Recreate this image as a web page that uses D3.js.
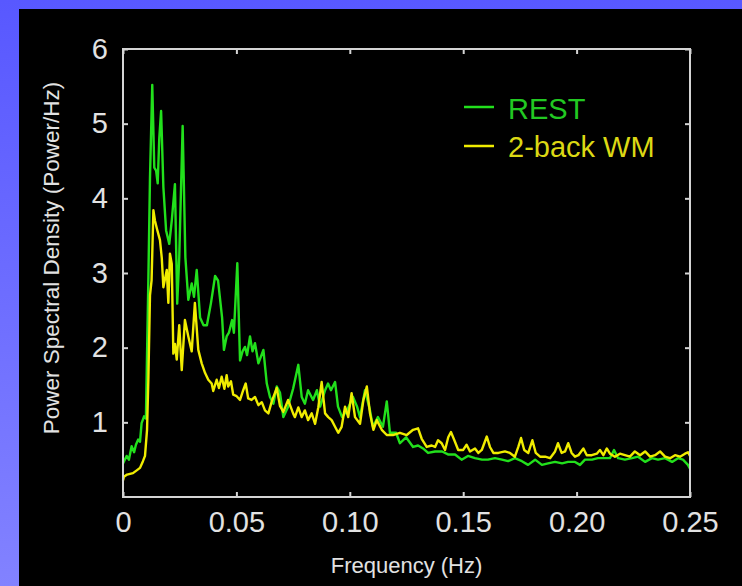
<!DOCTYPE html>
<html>
<head>
<meta charset="utf-8">
<script src="https://cdn.jsdelivr.net/npm/d3@7/dist/d3.min.js"></script>
<style>
  html, body { margin: 0; padding: 0; background: #000; }
  svg { display: block; }
  text { font-family: "Liberation Sans", Arial, Helvetica, sans-serif; }
</style>
</head>
<body>
<svg id="chart" width="742" height="586"></svg>
<script>
// ---------- DATA ----------
const restFreq = [0.0000,0.0016,0.0026,0.0038,0.0049,0.0057,0.0067,0.0075,0.0082,0.0093,0.0101,0.0112,0.0119,0.0129,0.0138,0.0146,0.0153,0.0160,0.0168,0.0178,0.0190,0.0204,0.0215,0.0229,0.0239,0.0248,0.0263,0.0275,0.0288,0.0303,0.0313,0.0325,0.0340,0.0355,0.0370,0.0388,0.0406,0.0419,0.0437,
  0.0445,0.0457,0.0467,0.0481,0.0489,0.0504,0.0516,0.0527,0.0538,0.0547,0.0560,0.0571,0.0582,0.0597,0.0619,0.0634,0.0648,0.0663,0.0678,0.0692,0.0707,0.0728,
  0.0750,0.0773,0.0788,0.0802,0.0816,0.0838,0.0855,0.0869,0.0891,0.0904,0.0917,0.0935,0.0948,0.0966,0.0988,0.1001,0.1014,0.1032,0.1045,0.1067,0.1089,0.1102,0.1124,0.1146,0.1163,0.1177,0.1204,0.1221,0.1248,0.1279,0.1301,0.1323,0.1345,0.1376,0.1407,0.1433,0.1464,0.1493,0.1521,0.1552,0.1583,0.1609,0.1640,0.1671,0.1698,0.1728,0.1759,0.1786,0.1817,0.1847,0.1874,0.1905,0.1936,0.1962,0.1993,0.2015,0.2037,0.2068,0.2094,0.2125,0.2147,0.2165,0.2183,0.2213,0.2244,0.2271,0.2302,0.2332,0.2359,0.2390,0.2421,0.2447,0.2469,0.2491,0.2500];
const restPower = [0.45,0.55,0.50,0.68,0.60,0.70,0.77,0.74,0.99,1.08,1.05,2.95,4.28,5.52,4.41,4.37,4.20,4.81,5.17,4.15,3.57,3.39,3.70,4.19,2.59,3.21,4.97,3.21,2.64,2.86,2.68,3.04,2.40,2.30,2.30,2.60,2.96,2.90,2.40,
  1.97,2.15,2.20,2.37,2.20,3.13,1.83,1.95,2.01,1.90,2.15,1.95,2.06,1.79,1.97,1.52,1.34,1.25,1.48,1.40,1.07,1.21,
  1.45,1.77,1.34,1.25,1.43,1.30,1.43,1.21,1.43,1.52,1.43,1.54,1.21,1.07,1.16,1.25,1.34,1.21,1.07,1.43,1.16,0.94,1.07,0.94,1.28,0.86,0.86,0.72,0.80,0.67,0.69,0.65,0.59,0.61,0.61,0.57,0.57,0.50,0.55,0.52,0.50,0.50,0.52,0.50,0.48,0.52,0.48,0.43,0.50,0.43,0.45,0.47,0.45,0.47,0.47,0.43,0.50,0.50,0.52,0.52,0.52,0.63,0.52,0.50,0.52,0.54,0.47,0.52,0.50,0.52,0.47,0.52,0.50,0.43,0.38];

const wmFreq = [0.0000,0.0004,0.0018,0.0031,0.0044,0.0062,0.0075,0.0088,0.0097,0.0106,0.0112,0.0119,0.0126,0.0134,0.0141,0.0149,0.0163,0.0171,0.0178,0.0193,0.0200,0.0207,0.0215,0.0222,0.0229,0.0237,0.0248,0.0259,0.0273,0.0288,0.0303,0.0317,
  0.0332,0.0347,0.0362,0.0376,0.0391,0.0398,0.0413,0.0423,0.0435,0.0447,0.0457,0.0464,0.0476,0.0486,0.0501,0.0516,0.0530,0.0541,0.0552,0.0567,0.0582,0.0597,0.0612,0.0626,0.0641,0.0656,0.0678,0.0692,0.0707,0.0728,
  0.0750,0.0758,0.0773,0.0788,0.0802,0.0816,0.0832,0.0847,0.0861,0.0876,0.0891,0.0905,0.0920,0.0935,0.0949,0.0964,0.0979,0.0993,0.1008,0.1023,0.1045,0.1060,0.1075,0.1089,0.1104,0.1119,0.1141,0.1163,0.1190,0.1221,0.1251,0.1279,0.1301,0.1317,0.1339,0.1361,0.1376,0.1389,0.1405,0.1420,0.1434,0.1446,0.1461,0.1478,0.1500,0.1515,0.1530,0.1552,0.1567,0.1582,0.1604,0.1618,0.1633,0.1655,0.1684,0.1706,0.1728,0.1743,0.1755,0.1769,0.1787,0.1805,0.1820,0.1839,0.1861,0.1883,0.1905,0.1918,0.1934,0.1949,0.1963,0.1978,0.1993,0.2008,0.2030,0.2045,0.2067,0.2089,0.2103,0.2118,0.2133,0.2147,0.2169,0.2191,0.2213,0.2235,0.2257,0.2280,0.2302,0.2324,0.2346,0.2368,0.2390,0.2412,0.2434,0.2456,0.2478,0.2491,0.2500];
const wmPower = [0.22,0.27,0.30,0.31,0.32,0.36,0.39,0.48,0.55,0.90,1.60,2.70,2.90,3.84,3.70,3.60,3.44,3.20,2.81,3.04,2.60,3.26,3.12,1.92,2.05,1.84,2.30,1.70,2.37,2.15,1.95,2.60,
  1.97,1.79,1.66,1.57,1.52,1.42,1.57,1.46,1.61,1.45,1.63,1.48,1.55,1.37,1.35,1.30,1.43,1.52,1.32,1.30,1.34,1.23,1.27,1.16,1.12,1.28,1.46,1.22,1.14,1.30,
  1.12,1.07,1.20,1.07,1.16,1.03,1.12,0.98,1.20,1.54,1.12,1.07,1.03,0.94,0.86,0.94,1.21,1.07,1.39,1.07,0.98,1.30,1.48,1.12,0.90,1.03,0.90,0.83,0.83,0.86,0.83,0.90,0.92,0.78,0.67,0.69,0.67,0.76,0.72,0.63,0.80,0.87,0.76,0.63,0.63,0.70,0.61,0.65,0.59,0.63,0.81,0.67,0.59,0.59,0.61,0.59,0.54,0.67,0.79,0.63,0.59,0.76,0.59,0.54,0.54,0.52,0.61,0.72,0.59,0.61,0.72,0.59,0.54,0.56,0.65,0.56,0.56,0.58,0.63,0.56,0.65,0.58,0.54,0.58,0.56,0.54,0.61,0.56,0.61,0.54,0.56,0.61,0.54,0.52,0.56,0.54,0.58,0.60,0.55];

const xTickValues = [0, 0.05, 0.10, 0.15, 0.20, 0.25];
const xTickLabels = ["0", "0.05", "0.10", "0.15", "0.20", "0.25"];
const yTickValues = [1, 2, 3, 4, 5, 6];
const yTickLabels = ["1", "2", "3", "4", "5", "6"];
const seriesNames = ["REST", "2-back WM"];
const xTitle = "Frequency (Hz)";
const yTitle = "Power Spectral Density (Power/Hz)";

// ---------- LAYOUT ----------
const W = 742, H = 586;
const plot = { left: 123, right: 690, top: 49, bottom: 497 };
const colors = { rest: "#22e01c", wm: "#f0ec00", restText: "#22c822", wmText: "#dcd814", frame: "#d4d4d4", text: "#e2e2e2" };

const svg = d3.select("#chart");

// Background: blue frame + black panel
const defs = svg.append("defs");
const grad = defs.append("linearGradient").attr("id", "bg").attr("x1", 0).attr("y1", 0).attr("x2", 0).attr("y2", 1);
grad.append("stop").attr("offset", "0%").attr("stop-color", "#5858ff");
grad.append("stop").attr("offset", "100%").attr("stop-color", "#8282ff");
svg.append("rect").attr("width", W).attr("height", H).attr("fill", "url(#bg)");
svg.append("rect").attr("x", 19).attr("y", 9).attr("width", W - 19).attr("height", H - 9).attr("fill", "#000");

const x = d3.scaleLinear().domain([0, 0.25]).range([plot.left, plot.right]);
const y = d3.scaleLinear().domain([0, 6]).range([plot.bottom, plot.top]);

// Axes with inward ticks
const fmtX = d => xTickLabels[xTickValues.indexOf(d)];
const fmtY = d => yTickLabels[yTickValues.indexOf(d)];

const gx = svg.append("g").attr("transform", `translate(0,${plot.bottom})`)
  .call(d3.axisBottom(x).tickValues(xTickValues).tickFormat(fmtX).tickSize(-5).tickPadding(14));
const gy = svg.append("g").attr("transform", `translate(${plot.left},0)`)
  .call(d3.axisLeft(y).tickValues(yTickValues).tickFormat(fmtY).tickSize(-5).tickPadding(15));
const gt = svg.append("g").attr("transform", `translate(0,${plot.top})`)
  .call(d3.axisTop(x).tickValues(xTickValues).tickFormat("").tickSize(-5));
const gr = svg.append("g").attr("transform", `translate(${plot.right},0)`)
  .call(d3.axisRight(y).tickValues(yTickValues).tickFormat("").tickSize(-5));

[gx, gy, gt, gr].forEach(g => {
  g.select(".domain").remove();
  g.selectAll(".tick line").attr("stroke", colors.frame).attr("stroke-width", 2);
  g.selectAll("text").attr("fill", colors.text).attr("font-size", 29)
    .attr("font-family", "'Liberation Sans', Arial, sans-serif");
});

// Data lines
const line = d3.line().x(d => x(d[0])).y(d => y(d[1])).curve(d3.curveLinear);
const restData = restFreq.map((f, i) => [f, restPower[i]]);
const wmData = wmFreq.map((f, i) => [f, wmPower[i]]);

svg.append("path").datum(restData).attr("d", line)
  .attr("fill", "none").attr("stroke", colors.rest).attr("stroke-width", 2.4).attr("stroke-linejoin", "round");
svg.append("path").datum(wmData).attr("d", line)
  .attr("fill", "none").attr("stroke", colors.wm).attr("stroke-width", 2.4).attr("stroke-linejoin", "round");

// Frame
svg.append("rect").attr("x", plot.left).attr("y", plot.top)
  .attr("width", plot.right - plot.left).attr("height", plot.bottom - plot.top)
  .attr("fill", "none").attr("stroke", colors.frame).attr("stroke-width", 2);

// Axis titles
svg.append("text").attr("x", (plot.left + plot.right) / 2).attr("y", 573)
  .attr("text-anchor", "middle").attr("fill", colors.text).attr("font-size", 22).text(xTitle);
svg.append("text").attr("transform", "translate(59,258) rotate(-90)")
  .attr("text-anchor", "middle").attr("fill", colors.text).attr("font-size", 22.5).text(yTitle);

// Legend
const legend = svg.append("g");
const legItems = [
  { name: seriesNames[0], line: colors.rest, text: colors.restText, ly: 107, ty: 119 },
  { name: seriesNames[1], line: colors.wm, text: colors.wmText, ly: 146, ty: 157 }
];
legItems.forEach(it => {
  legend.append("line").attr("x1", 464).attr("x2", 494).attr("y1", it.ly).attr("y2", it.ly)
    .attr("stroke", it.line).attr("stroke-width", 2.5);
  legend.append("text").attr("x", 508).attr("y", it.ty).attr("fill", it.text)
    .attr("font-size", 29).text(it.name);
});
</script>
</body>
</html>
